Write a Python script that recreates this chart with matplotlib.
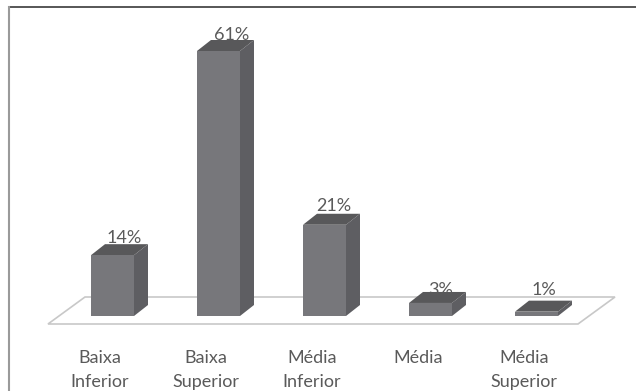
import matplotlib
matplotlib.use("Agg")
import matplotlib.pyplot as plt
from matplotlib.patches import Polygon, Rectangle

categories = ["Baixa\nInferior", "Baixa\nSuperior", "Média\nInferior", "Média", "Média\nSuperior"]
values = [14, 61, 21, 3, 1]
labels = ["14%", "61%", "21%", "3%", "1%"]

# label nudges in pixels, the value labels don't sit evenly on the bars
label_dx = [12, 13.5, 9.5, 10, 7]
label_dy = [1, 0, 3, -3, 6]

# axes fill the figure, x in category steps and y in percent
W, H = 636, 391
PX_X = 106.0
PX_Y = 265 / 61
X0 = 112.5
Y0 = 316

half = 21.5 / PX_X
dx = 14 / PX_X
dy = 11 / PX_Y

fig = plt.figure(figsize=(W / 100, H / 100), dpi=100)
ax = fig.add_axes([0, 0, 1, 1])
ax.set_xlim(-X0 / PX_X, (W - X0) / PX_X)
ax.set_ylim((Y0 - H) / PX_Y, Y0 / PX_Y)
ax.axis("off")

# outer frame
frame_left = (9.5 - X0) / PX_X
frame_top = (Y0 - 7) / PX_Y
ax.plot([frame_left, (W - X0) / PX_X], [frame_top, frame_top], color="#3a3a3a", lw=1.2)
ax.plot([frame_left, frame_left], [frame_top, (Y0 - H) / PX_Y], color="#9a9a9a", lw=1.5)

# floor of the plot
floor_front = -8 / PX_Y
floor_back = 19 / PX_Y
floor = [((48 - X0) / PX_X, floor_front), ((578 - X0) / PX_X, floor_front),
         ((615 - X0) / PX_X, floor_back), ((85 - X0) / PX_X, floor_back)]
ax.add_patch(Polygon(floor, closed=True, fc="white", ec="#c8c8c8", lw=1.2, zorder=1))

for i, v in enumerate(values):
    l, r = i - half, i + half
    ax.add_patch(Polygon([(r, 0), (r + dx, dy), (r + dx, v + dy), (r, v)], fc="#5e5e62", ec="none", zorder=2))
    ax.add_patch(Polygon([(l, v), (l + dx, v + dy), (r + dx, v + dy), (r, v)], fc="#58585a", ec="none", zorder=2))
    ax.add_patch(Rectangle((l, 0), r - l, v, fc="#77777b", ec="none", zorder=3))
    ax.text(i + label_dx[i] / PX_X, v + dy + label_dy[i] / PX_Y, labels[i], ha="center", va="baseline",
            fontsize=13, color="#5a5a5a", family="Lato", zorder=4)
    ax.text(i - 12.5 / PX_X, -47 / PX_Y, categories[i].split("\n")[0], ha="center", va="baseline",
            fontsize=13, color="#5a5a5a", family="Lato")
    if "\n" in categories[i]:
        ax.text(i - 12.5 / PX_X, -71 / PX_Y, categories[i].split("\n")[1], ha="center", va="baseline",
                fontsize=13, color="#5a5a5a", family="Lato")

fig.savefig("out.png", dpi=100)
